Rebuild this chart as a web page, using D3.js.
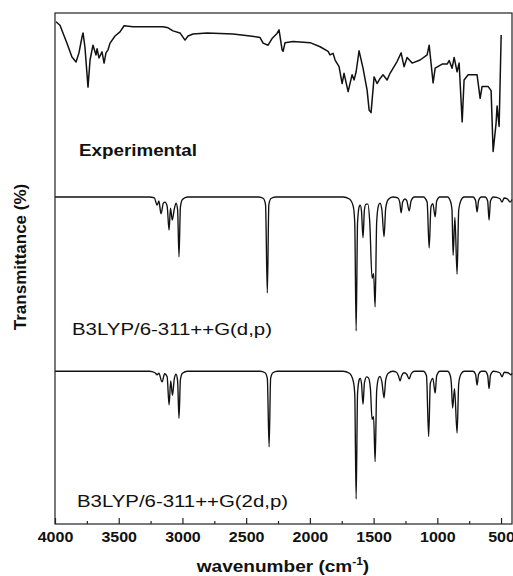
<!DOCTYPE html>
<html>
<head>
<meta charset="utf-8">
<script src="https://cdn.jsdelivr.net/npm/d3@7"></script>
<style>
  body { margin: 0; background: #fff; }
  text { font-family: "Liberation Sans", Arial, sans-serif; }
</style>
</head>
<body>
<div id="chart"></div>
<script>
// axis ticks (cm-1)
const majorTicks = [4000, 3500, 3000, 2500, 2000, 1500, 1000, 500];
const minorTicks = [3750, 3250, 2750, 2250, 1750, 1250, 750];
const seriesNames = ['Experimental', 'B3LYP/6-311++G(d,p)', 'B3LYP/6-311++G(2d,p)'];

// [wavenumber, transmittance (offset, arb. units)]
const experimental = [
  [3992, 98.3], [3961, 97.6], [3906, 94.1], [3867, 91.4], [3835, 90.4], [3812, 92.2],
  [3788, 95.3], [3780, 96.1], [3765, 93.3], [3741, 85.5], [3725, 90.8], [3702, 93.7],
  [3678, 91.8], [3670, 93.0], [3655, 91.2], [3631, 92.4], [3615, 90.2], [3600, 92.2],
  [3584, 92.8], [3568, 94.1], [3529, 95.5], [3490, 96.3], [3458, 97.5], [3388, 97.3],
  [3254, 97.3], [3152, 97.3], [3113, 97.1], [3074, 96.5], [3019, 96.1], [2980, 94.7],
  [2956, 95.5], [2917, 95.9], [2807, 96.1], [2603, 95.9], [2469, 95.5], [2414, 95.3],
  [2391, 95.2], [2367, 94.1], [2328, 93.7], [2297, 95.0], [2258, 96.0], [2242, 96.7],
  [2218, 92.8], [2210, 92.5], [2195, 94.2], [2132, 94.4], [1998, 94.2], [1920, 93.4],
  [1857, 92.5], [1842, 91.8], [1818, 92.1], [1802, 90.8], [1771, 89.5], [1747, 86.2],
  [1732, 88.2], [1700, 84.6], [1669, 87.9], [1653, 86.9], [1637, 88.5], [1614, 92.6],
  [1583, 89.2], [1551, 84.9], [1535, 81.0], [1520, 80.5], [1496, 87.5], [1473, 86.2],
  [1449, 87.2], [1426, 87.9], [1394, 86.9], [1371, 88.2], [1316, 90.5], [1284, 92.2],
  [1261, 89.5], [1237, 91.3], [1198, 90.2], [1135, 90.8], [1080, 91.8], [1064, 93.7],
  [1033, 86.3], [1017, 89.2], [962, 90.0], [923, 90.0], [907, 90.7], [884, 89.2],
  [868, 91.3], [845, 88.5], [829, 90.2], [805, 78.7], [790, 86.9], [758, 87.9],
  [688, 87.9], [664, 83.3], [649, 85.6], [601, 85.6], [578, 84.8], [562, 72.9],
  [539, 78.4], [531, 81.8], [515, 77.8], [499, 95.7]
];

const calcDp = [
  [4000, 64.0], [3260, 64.0], [3220, 63.8], [3199, 62.4], [3185, 63.2], [3168, 60.7],
  [3150, 62.8], [3137, 63.0], [3120, 62.2], [3105, 57.5], [3094, 61.8], [3080, 59.5],
  [3065, 61.5], [3050, 62.8], [3038, 61.5], [3027, 52.3], [3016, 62.0], [3000, 63.5],
  [2960, 64.0], [2400, 64.0], [2365, 63.7], [2348, 62.5], [2334, 45.2], [2322, 62.5],
  [2305, 63.7], [2270, 64.0], [1740, 64.0], [1690, 63.6], [1660, 62.2], [1648, 59.0],
  [1637, 37.8], [1626, 59.0], [1612, 62.2], [1605, 62.4], [1595, 61.2], [1583, 56.0],
  [1572, 61.5], [1560, 62.6], [1545, 62.6], [1530, 59.0], [1512, 48.1], [1500, 49.0],
  [1488, 42.5], [1476, 59.0], [1462, 62.3], [1450, 62.8], [1435, 61.5], [1418, 56.2],
  [1405, 61.8], [1385, 63.5], [1350, 64.0], [1310, 63.8], [1295, 63.0], [1284, 60.9],
  [1272, 63.0], [1255, 63.6], [1240, 63.3], [1221, 61.3], [1205, 63.3], [1180, 64.0],
  [1110, 64.0], [1080, 63.0], [1064, 54.0], [1050, 62.0], [1035, 62.7], [1017, 60.1],
  [1005, 63.2], [980, 64.0], [920, 64.0], [895, 63.0], [885, 61.5], [876, 52.6],
  [862, 60.0], [845, 48.9], [832, 61.5], [815, 63.3], [790, 64.0], [720, 64.0],
  [700, 63.3], [688, 61.1], [676, 63.3], [655, 64.0], [625, 64.0], [605, 63.2],
  [594, 59.5], [583, 63.2], [560, 64.0], [510, 63.7], [492, 63.0], [475, 63.8],
  [450, 63.6], [429, 63.0], [414, 63.5]
];

const calc2dp = [
  [4000, 29.9], [3260, 29.9], [3215, 29.6], [3199, 29.2], [3185, 29.5], [3160, 27.8],
  [3140, 29.4], [3120, 28.8], [3105, 23.3], [3092, 28.0], [3078, 25.2], [3064, 28.4],
  [3050, 29.3], [3038, 28.0], [3027, 20.7], [3016, 28.2], [3000, 29.5], [2960, 29.9],
  [2390, 29.9], [2352, 29.6], [2334, 28.5], [2320, 15.1], [2308, 28.5], [2290, 29.6],
  [2255, 29.9], [1740, 29.9], [1690, 29.5], [1660, 28.0], [1648, 25.5], [1637, 4.9],
  [1626, 25.5], [1612, 28.3], [1605, 28.5], [1595, 27.5], [1583, 23.4], [1572, 27.6],
  [1555, 28.8], [1540, 28.6], [1525, 26.5], [1512, 20.5], [1500, 21.0], [1488, 12.2],
  [1476, 26.0], [1462, 28.5], [1450, 28.9], [1435, 27.8], [1418, 24.7], [1405, 28.2],
  [1385, 29.5], [1350, 29.9], [1320, 29.7], [1305, 29.0], [1292, 28.0], [1280, 29.0],
  [1260, 29.6], [1240, 29.3], [1221, 28.4], [1205, 29.4], [1180, 29.9], [1110, 29.9],
  [1085, 29.0], [1068, 17.1], [1055, 27.5], [1035, 28.5], [1017, 25.6], [1005, 29.0],
  [980, 29.9], [920, 29.9], [898, 29.0], [890, 27.5], [880, 22.7], [865, 26.5],
  [845, 17.8], [832, 27.5], [815, 29.3], [790, 29.9], [720, 29.9], [700, 29.3],
  [688, 27.2], [676, 29.3], [655, 29.9], [625, 29.9], [605, 29.1], [594, 26.5],
  [583, 29.1], [560, 29.9], [510, 29.6], [492, 28.8], [475, 29.7], [445, 29.6],
  [421, 29.2], [414, 29.5]
];

const width = 513, height = 576;
const margin = {left: 55, top: 13, right: 1, bottom: 52};
const plotW = width - margin.left - margin.right;
const plotH = height - margin.top - margin.bottom;

let svg = d3.select('#chart').append('svg')
  .attr('width', width).attr('height', height)
  .style('background', '#fff');

let x = d3.scaleLinear().domain([4000, 414]).range([margin.left, margin.left + plotW]);
let y = d3.scaleLinear().domain([0, 100]).range([margin.top + plotH, margin.top]);

// spectra
let jagged = d3.line().x(d => x(d[0])).y(d => y(d[1]));
let smooth = d3.line().x(d => x(d[0])).y(d => y(d[1])).curve(d3.curveMonotoneX);

svg.append('path').datum(experimental).attr('d', jagged)
  .attr('fill', 'none').attr('stroke', '#111').attr('stroke-width', 1.5).attr('stroke-linejoin', 'round');
[calcDp, calc2dp].forEach(function(series) {
  svg.append('path').datum(series).attr('d', smooth)
    .attr('fill', 'none').attr('stroke', '#111').attr('stroke-width', 1.35);
});

// frame
svg.append('rect')
  .attr('x', margin.left).attr('y', margin.top)
  .attr('width', plotW).attr('height', plotH)
  .attr('fill', 'none').attr('stroke', '#222').attr('stroke-width', 1.2);

// bottom axis, inward ticks
let xAxis = svg.append('g').attr('transform', 'translate(0,' + (margin.top + plotH) + ')')
  .call(d3.axisBottom(x).tickValues(majorTicks).tickSize(-6).tickFormat(d3.format('d')));
xAxis.select('.domain').remove();
xAxis.selectAll('line').attr('stroke', '#222').attr('stroke-width', 1.2);
xAxis.selectAll('text')
  .attr('y', 18).attr('dy', 0)
  .attr('fill', '#111')
  .style('font-size', '14px').style('font-weight', 'bold')
  .attr('textLength', d => String(d).length * 8.9)
  .attr('lengthAdjust', 'spacingAndGlyphs');

let minorAxis = svg.append('g').attr('transform', 'translate(0,' + (margin.top + plotH) + ')')
  .call(d3.axisBottom(x).tickValues(minorTicks).tickSize(-3).tickFormat(''));
minorAxis.select('.domain').remove();
minorAxis.selectAll('line').attr('stroke', '#222').attr('stroke-width', 1.2);

// series labels
let labelLayout = [
  {x: 79, y: 156, w: 118, weight: 'bold'},
  {x: 72, y: 335, w: 200, weight: 'normal'},
  {x: 77, y: 507, w: 211, weight: 'normal'}
];
seriesNames.forEach(function(name, i) {
  let l = labelLayout[i];
  svg.append('text').text(name)
    .attr('x', l.x).attr('y', l.y)
    .attr('fill', '#111')
    .style('font-size', '16px').style('font-weight', l.weight)
    .attr('textLength', l.w).attr('lengthAdjust', 'spacingAndGlyphs');
});

// axis titles
svg.append('text')
  .attr('transform', 'translate(26,257) rotate(-90)')
  .attr('text-anchor', 'middle')
  .attr('fill', '#111')
  .style('font-size', '17px').style('font-weight', 'bold')
  .text('Transmittance (%)');

let xTitle = svg.append('text')
  .attr('transform', 'translate(283,572) scale(1.19,1)')
  .attr('text-anchor', 'middle')
  .attr('fill', '#111')
  .style('font-size', '16px').style('font-weight', 'bold');
xTitle.append('tspan').text('wavenumber (cm');
xTitle.append('tspan').text('-1').style('font-size', '10px').attr('dy', -7);
xTitle.append('tspan').text(')').attr('dy', 7);
</script>
</body>
</html>
